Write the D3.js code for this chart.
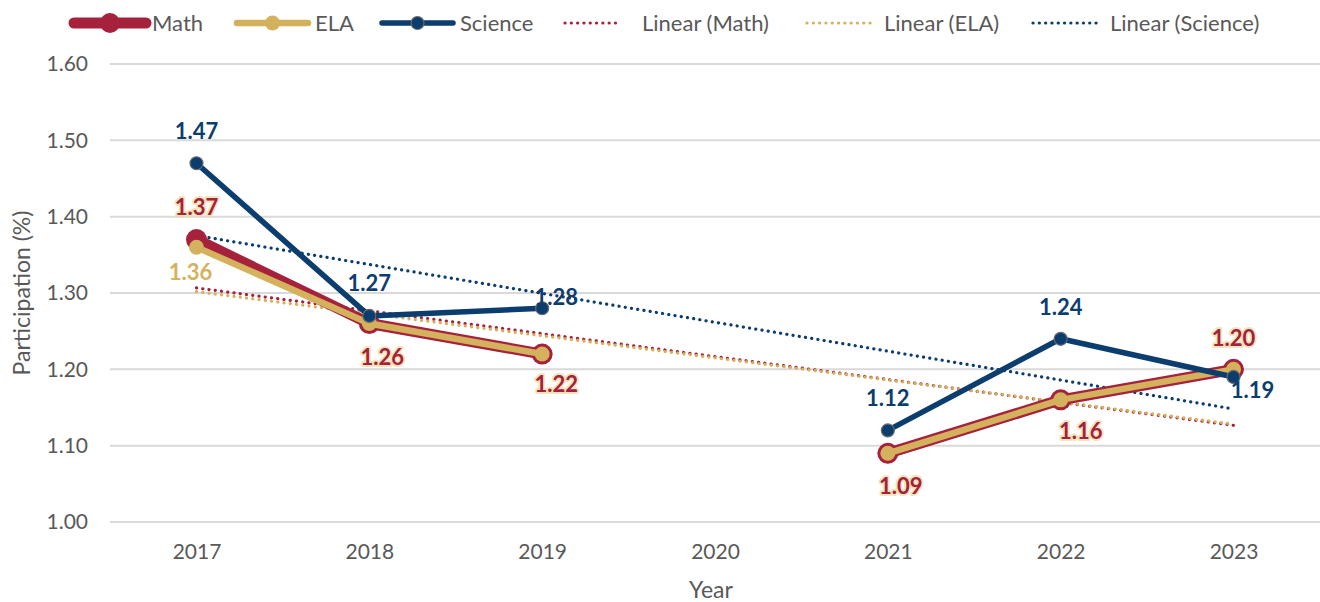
<!DOCTYPE html>
<html><head><meta charset="utf-8">
<script src="https://cdn.jsdelivr.net/npm/d3@7"></script>
<style>html,body{margin:0;padding:0;background:#fff;}svg{display:block;font-family:Lato,"Open Sans",sans-serif;}</style>
</head><body><svg id="c" width="1320" height="602"></svg>
<script>
const years = ["2017","2018","2019","2020","2021","2022","2023"];
const mathVals = [1.37, 1.26, 1.22, null, 1.09, 1.16, 1.20];
const elaVals = [1.36, 1.26, 1.22, null, 1.09, 1.16, 1.20];
const sciVals = [1.47, 1.27, 1.28, null, 1.12, 1.24, 1.19];
const yTicks = [1.00, 1.10, 1.20, 1.30, 1.40, 1.50, 1.60];

const colors = {math:"#A6213C", ela:"#D4B15C", sci:"#0B3D6E"};
const svg = d3.select("#c");
const x = d3.scalePoint().domain(years).range([196.5, 1233.5]);
const y = d3.scaleLinear().domain([1.0, 1.6]).range([522, 64]);

// gridlines
svg.append("g").selectAll("line").data(yTicks).join("line")
  .attr("x1",110).attr("x2",1320).attr("y1",d=>y(d)).attr("y2",d=>y(d))
  .attr("stroke","#D9D9D9").attr("stroke-width",2);

// y axis labels
const yAxis = svg.append("g").attr("transform","translate(96,0)")
  .call(d3.axisLeft(y).tickValues(yTicks).tickFormat(d3.format(".2f")).tickSize(0).tickPadding(8));
yAxis.select(".domain").remove();
yAxis.selectAll("text").attr("font-family","Lato").attr("font-size",21).attr("fill","#595959");

// x axis labels
const xAxis = svg.append("g").attr("transform","translate(0,540)")
  .call(d3.axisBottom(x).tickSize(0).tickPadding(4));
xAxis.select(".domain").remove();
xAxis.selectAll("text").attr("font-family","Lato").attr("font-size",21).attr("fill","#595959");

svg.append("text").attr("x",711).attr("y",598).attr("text-anchor","middle")
  .attr("font-size",23).attr("fill","#595959").text("Year");
svg.append("text").attr("transform","translate(30,293) rotate(-90)").attr("text-anchor","middle")
  .attr("font-size",23).attr("fill","#595959").text("Participation (%)");

// trendlines (linear regression on category index, blanks skipped)
function trend(vals){
  const pts = vals.map((v,i)=>[i+1,v]).filter(p=>p[1]!=null);
  const mx = d3.mean(pts,p=>p[0]), my = d3.mean(pts,p=>p[1]);
  const sxy = d3.sum(pts,p=>(p[0]-mx)*(p[1]-my)), sxx = d3.sum(pts,p=>(p[0]-mx)**2);
  const b = sxy/sxx, a = my - b*mx;
  return [[years[0], a+b*1],[years[6], a+b*7]];
}
const trends = [["math",mathVals],["ela",elaVals],["sci",sciVals]];
trends.forEach(([k,v])=>{
  const t = trend(v);
  svg.append("line").attr("x1",x(t[0][0])).attr("y1",y(t[0][1])).attr("x2",x(t[1][0])).attr("y2",y(t[1][1]))
    .attr("stroke",colors[k]).attr("stroke-width",3.2).attr("stroke-dasharray","0.1 6.2").attr("stroke-linecap","round");
});

const line = d3.line().defined(d=>d[1]!=null).x(d=>x(d[0])).y(d=>y(d[1]));
function series(vals, color, width, r, markerStroke, markerStrokeW){
  const data = years.map((yr,i)=>[yr,vals[i]]);
  svg.append("path").datum(data).attr("d",line).attr("fill","none")
    .attr("stroke",color).attr("stroke-width",width).attr("stroke-linejoin","round").attr("stroke-linecap","round");
  svg.append("g").selectAll("circle").data(data.filter(d=>d[1]!=null)).join("circle")
    .attr("cx",d=>x(d[0])).attr("cy",d=>y(d[1])).attr("r",r)
    .attr("fill",color).attr("stroke",markerStroke||color).attr("stroke-width",markerStrokeW||0);
}
series(mathVals, colors.math, 11, 10.5);
series(elaVals, colors.ela, 6.5, 7.5);
series(sciVals, colors.sci, 5.5, 6.5, "#6b6b6b", 1.2);

// data labels: [dx, dy] offsets per point
const mathLabelOff = [[0,-32],[13,34],[14,30],null,[13,33],[20,31],[0,-31]];
const elaLabelOff = [[-6,25],null,null,null,null,null,null];
const sciLabelOff = [[0,-32],[0,-33],[14,-11],null,[0,-32],[0,-32],[19,13]];
function labels(vals, offs, color, glow){
  const data = years.map((yr,i)=>({yr, v:vals[i], o:offs[i]})).filter(d=>d.v!=null && d.o);
  const g = svg.append("g");
  g.selectAll("text").data(data).join("text")
    .attr("x",d=>x(d.yr)+d.o[0]).attr("y",d=>y(d.v)+d.o[1]).attr("dy","0.35em")
    .attr("text-anchor","middle").attr("font-weight","bold").attr("font-size",22)
    .attr("fill",color)
    .attr("stroke",glow||"none").attr("stroke-width",glow?4:0).attr("stroke-linejoin","round")
    .attr("paint-order","stroke")
    .text(d=>d3.format(".2f")(d.v));
}
labels(mathVals, mathLabelOff, colors.math, "rgba(236,218,160,0.7)");
labels(elaVals, elaLabelOff, colors.ela);
labels(sciVals, sciLabelOff, colors.sci);

// legend
const legendItems = [
  {name:"Math", k:"math", type:"line", x0:74, x1:146, w:11, r:10, tx:152},
  {name:"ELA", k:"ela", type:"line", x0:237, x1:308, w:6.5, r:7.5, tx:315},
  {name:"Science", k:"sci", type:"line", x0:382, x1:453, w:5.5, r:6.5, tx:460},
  {name:"Linear (Math)", k:"math", type:"dot", x0:565, x1:620, tx:642},
  {name:"Linear (ELA)", k:"ela", type:"dot", x0:807, x1:872, tx:884},
  {name:"Linear (Science)", k:"sci", type:"dot", x0:1033, x1:1098, tx:1110}
];
const lg = svg.append("g");
legendItems.forEach(it=>{
  const ly = 23;
  if(it.type==="line"){
    lg.append("line").attr("x1",it.x0).attr("x2",it.x1).attr("y1",ly).attr("y2",ly)
      .attr("stroke",colors[it.k]).attr("stroke-width",it.w).attr("stroke-linecap","round");
    lg.append("circle").attr("cx",(it.x0+it.x1)/2).attr("cy",ly).attr("r",it.r).attr("fill",colors[it.k])
      .attr("stroke",it.k==="sci"?"#6b6b6b":"none").attr("stroke-width",1.2);
  } else {
    lg.append("line").attr("x1",it.x0).attr("x2",it.x1).attr("y1",ly).attr("y2",ly)
      .attr("stroke",colors[it.k]).attr("stroke-width",3.2).attr("stroke-dasharray","0.1 6.2").attr("stroke-linecap","round");
  }
  lg.append("text").attr("x",it.tx).attr("y",ly).attr("dy","0.35em").attr("font-size",22)
    .attr("fill","#595959").text(it.name);
});
</script></body></html>
